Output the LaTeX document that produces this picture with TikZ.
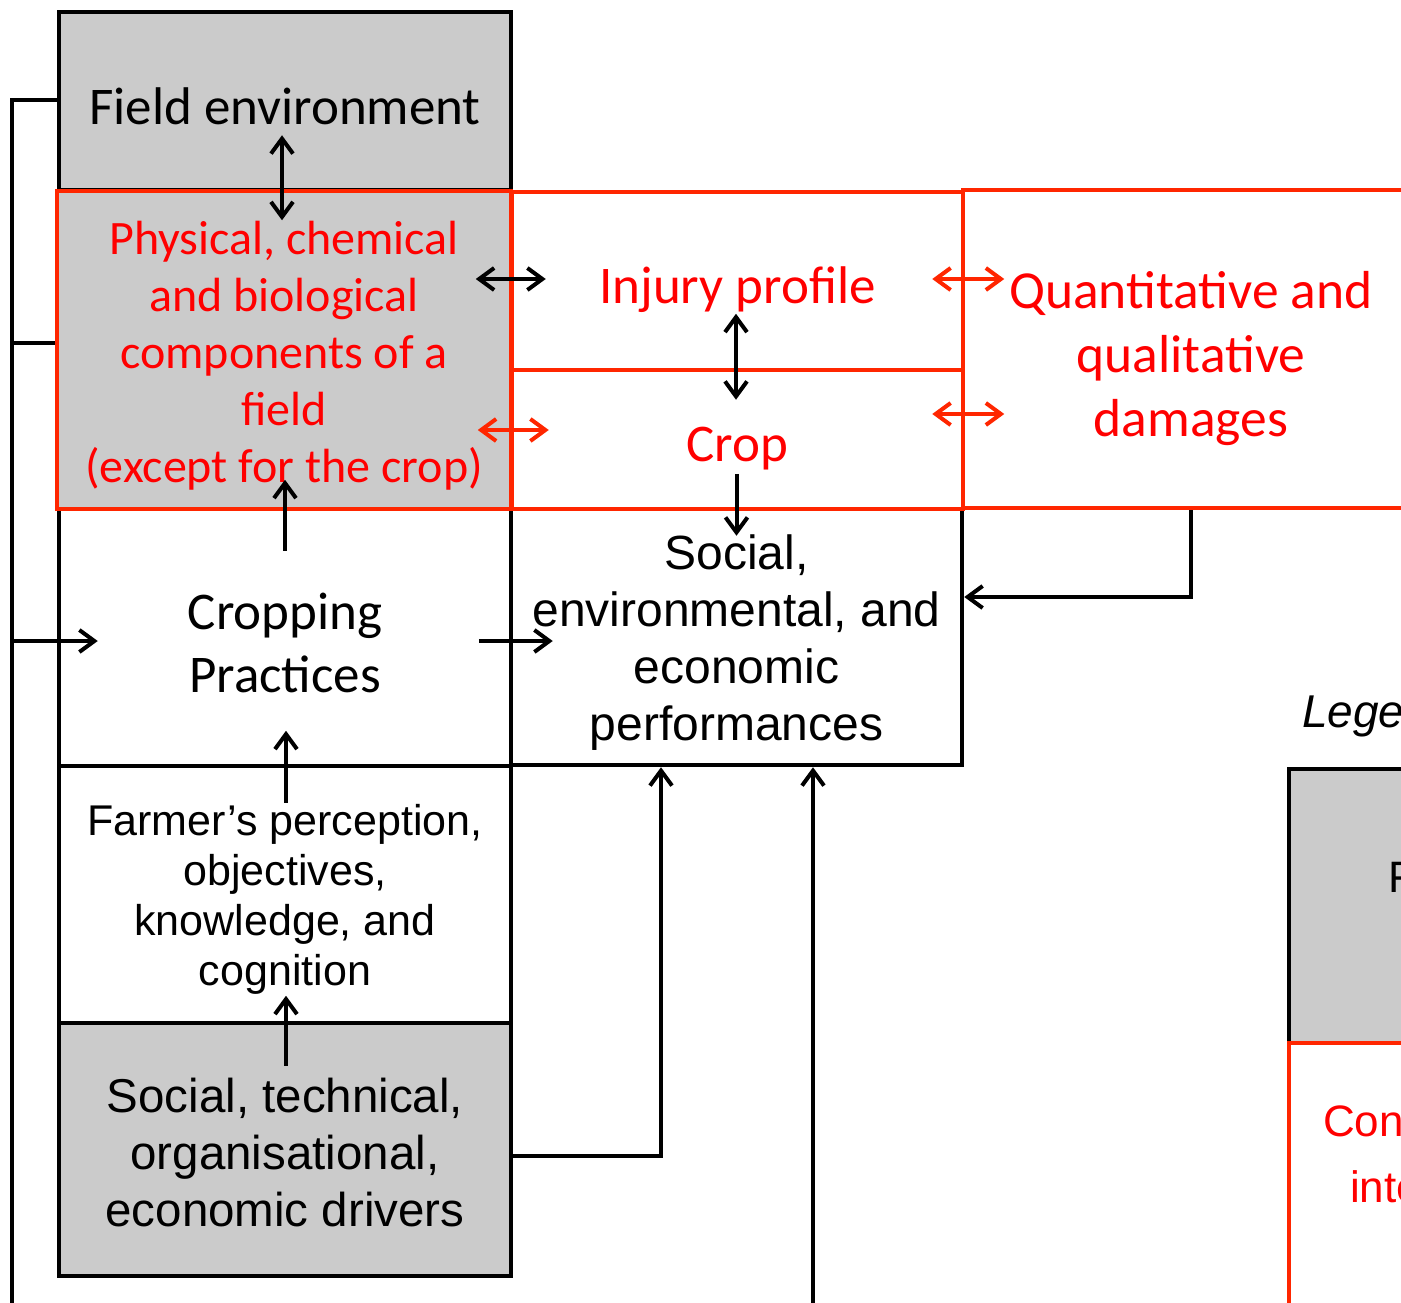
\documentclass[tikz,border=0pt]{standalone}
\usepackage{fontspec}
\usetikzlibrary{arrows.meta,calc}
\newfontfamily\calibfont{Carlito}
\newfontfamily\arialfont{Liberation Sans}
\definecolor{boxgrey}{RGB}{203,203,203}
\definecolor{lineRed}{RGB}{255,38,0}
\definecolor{textRed}{RGB}{255,0,0}
\tikzset{
  blackbox/.style={draw=black, line width=4.5pt, inner sep=0pt},
  redbox/.style={draw=lineRed, line width=4.5pt, inner sep=0pt},
  boxtext/.style={align=center, inner sep=0pt},
  calib/.style={boxtext, font=\calibfont\fontsize{53}{63}\selectfont},
  redcalib/.style={calib, text=textRed},
  arial/.style={boxtext, font=\arialfont\fontsize{47.5}{57}\selectfont},
  tip/.tip={Straight Barb[length=15pt,width=22pt]},
  link/.style={draw=black, line width=4pt},
  conn/.style={link, -tip},
  biconn/.style={link, tip-tip},
  redbiconn/.style={biconn, draw=lineRed},
}
\begin{document}
\begin{tikzpicture}[x=1pt,y=-1pt]
\clip (0,0) rectangle (1401,1303);
\useasboundingbox (0,0) rectangle (1401,1303);

%Shape: Rectangle [black boxes]
\node [blackbox, fill=boxgrey, minimum width=452pt, minimum height=178pt] (fieldenv) at (285,101) {};
\node [blackbox, minimum width=452pt, minimum height=257pt] (cropping) at (285,637.5) {};
\node [blackbox, minimum width=451pt, minimum height=256pt] (socenv) at (736.5,637) {};
\node [blackbox, minimum width=452pt, minimum height=257pt] (farmer) at (285,894.5) {};
\node [blackbox, fill=boxgrey, minimum width=452pt, minimum height=253pt] (soctech) at (285,1149.5) {};

%Shape: Rectangle [red boxes]
\node [redbox, fill=boxgrey, minimum width=454pt, minimum height=318pt] (phys) at (284,350) {};
\node [redbox, minimum width=451pt, minimum height=178pt] (injury) at (737.5,281) {};
\node [redbox, minimum width=451pt, minimum height=139pt] (crop) at (737.5,439.5) {};
\node [redbox, minimum width=456pt, minimum height=318pt] (quant) at (1191,349) {};

%Shape: Rectangle [legend]
\node [blackbox, fill=boxgrey, minimum width=454pt, minimum height=274pt] (legfactor) at (1516,906) {};
\node [redbox, minimum width=454pt, minimum height=276pt] (legcomp) at (1516,1181) {};

% Text Node
\node [calib] (fieldenvtext) at ($(fieldenv)+(0,5)$) {Field environment};
\node [calib] (croppingtext) at ($(cropping)+(0,5)$) {Cropping\\Practices};
\node [arial, font=\arialfont\fontsize{48}{57}\selectfont] (socenvtext) at ($(socenv)+(0,6)$) {Social,\\environmental, and\\economic\\performances};
\node [arial, font=\arialfont\fontsize{43}{50}\selectfont] (farmertext) at ($(farmer)+(0,5)$) {Farmer’s perception,\\objectives,\\knowledge, and\\cognition};
\node [arial] (soctechtext) at ($(soctech)+(0,3)$) {Social, technical,\\organisational,\\economic drivers};
\node [redcalib, font=\calibfont\fontsize{48}{57}\selectfont] (phystext) at ($(phys)+(0,6)$) {Physical, chemical\\and biological\\components of a\\field\\(except for the crop)};
\node [redcalib] (injurytext) at ($(injury)+(0,9)$) {Injury profile};
\node [redcalib] (croptext) at ($(crop)+(0,9)$) {Crop};
\node [redcalib, font=\calibfont\fontsize{53.5}{64}\selectfont] (quanttext) at ($(quant)+(0,10)$) {Quantitative and\\qualitative\\damages};
% Text Node [legend]
\node [font=\arialfont\itshape\fontsize{46}{57}\selectfont, anchor=base west, inner sep=0pt] (legend) at (1302,727) {Legend};
\node [font=\arialfont\fontsize{44}{52}\selectfont, anchor=west, inner sep=0pt] (legfactortext) at (1388,878) {Factors};
\node [font=\arialfont\fontsize{44}{52}\selectfont, text=textRed, anchor=west, inner sep=0pt] (legcomptext) at (1323,1121) {Constituents};
\node [font=\arialfont\fontsize{44}{52}\selectfont, text=textRed, anchor=west, inner sep=0pt] (legcomptextb) at (1350,1187) {interactions};

%Straight Lines [between the boxes]
\draw [biconn] ($(fieldenv.south)+(-3,-57)$) -- ($(fieldenv.south)+(-3,28)$);
\draw [biconn] ($(injury.west)+(-34,-2)$) -- ($(injury.west)+(36,-2)$);
\draw [redbiconn] ($(crop.west)+(-32,-9.5)$) -- ($(crop.west)+(39,-9.5)$);
\draw [biconn] ($(crop.north)+(-1.5,-54)$) -- ($(crop.north)+(-1.5,32)$);
\draw [redbiconn] ($(injury.east)+(-33,-2)$) -- ($(injury.east)+(39,-2)$);
\draw [redbiconn] ($(crop.east)+(-33,-25.5)$) -- ($(crop.east)+(39,-25.5)$);
\draw [conn] ($(socenv.north)+(0,-33)$) -- ($(socenv.north)+(0,29)$);
\draw [conn] ($(cropping.north)+(0,44)$) -- ($(cropping.north)+(0,-27)$);
\draw [conn] ($(farmer.north)+(1,39)$) -- ($(farmer.north)+(1,-33)$);
\draw [conn] ($(soctech.north)+(1,45)$) -- ($(soctech.north)+(1,-25)$);
\draw [conn] ($(socenv.west)+(-30,4)$) -- ($(socenv.west)+(44,4)$);

%Straight Lines [feedback loops]
\coordinate (feedbot) at (12,1310);
\coordinate (perfbot) at (813,1310);
\draw [link] ($(fieldenv.west)+(0,-1)$) -- ($(feedbot |- fieldenv.west)+(0,-1)$) -- (feedbot);
\draw [link] ($(phys.west)+(0,-7)$) -- ($(feedbot |- phys.west)+(0,-7)$);
\draw [conn] ($(feedbot |- cropping.west)+(0,3.5)$) -- ($(cropping.west)+(41,3.5)$);
\draw [conn] (quant.south) |- ($(socenv.east)+(0,-40)$);
\draw [conn] ($(soctech.east)+(0,6.5)$) -| ($(socenv.south)+(-75.5,0)$);
\draw [conn] (perfbot) -- (perfbot |- socenv.south);

\end{tikzpicture}
\end{document}
